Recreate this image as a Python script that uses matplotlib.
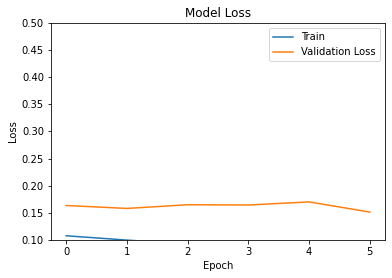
import matplotlib
matplotlib.use('Agg')
import matplotlib.pyplot as plt

epochs = [0, 1, 2, 3, 4, 5]
train_loss = [0.1078, 0.0998, 0.0930, 0.0890, 0.0860, 0.0840]
val_loss = [0.1636, 0.1582, 0.1650, 0.1645, 0.1702, 0.1515]

W, H = 392, 278
fig, ax = plt.subplots(figsize=(W / 72, H / 72), dpi=72)
fig.subplots_adjust(left=51 / W, right=385 / W, top=1 - 23 / H, bottom=1 - 240 / H)
ax.plot(epochs, train_loss, label='Train')
ax.plot(epochs, val_loss, label='Validation Loss')
ax.set_ylim(0.10, 0.50)
ax.set_title('Model Loss')
ax.set_xlabel('Epoch')
ax.set_ylabel('Loss')
ax.legend(loc='upper right')
fig.savefig('out.png', dpi=72)
